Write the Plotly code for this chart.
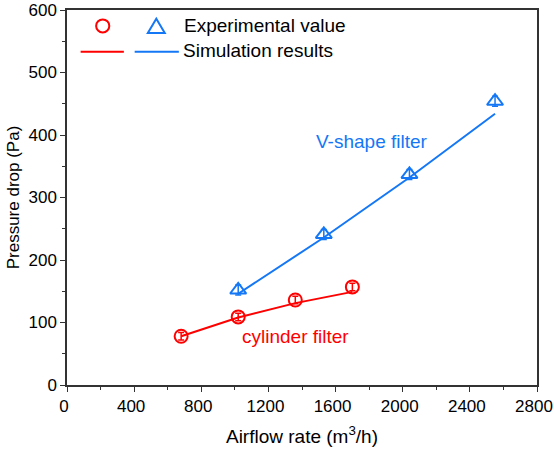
import plotly.graph_objects as go

# Data
cyl_x = [680, 1020, 1360, 1700]
cyl_exp = [78, 109, 136, 157]
cyl_err = [6, 6, 6, 6]
cyl_sim = [78, 108, 131, 149]

v_x = [1020, 1530, 2040, 2550]
v_exp = [152, 241, 337, 454]
v_err = [8, 8, 8, 8]
v_sim = [146, 236, 332, 434]

x_ticks = [0, 400, 800, 1200, 1600, 2000, 2400, 2800]
y_ticks = [0, 100, 200, 300, 400, 500, 600]

RED = "#FF0000"
BLUE = "#1477F5"
FONT = "Liberation Sans, Arial, sans-serif"

fig = go.Figure()

fig.add_trace(go.Scatter(x=cyl_x, y=cyl_sim, mode="lines",
                         line=dict(color=RED, width=2), showlegend=False))
fig.add_trace(go.Scatter(x=v_x, y=v_sim, mode="lines",
                         line=dict(color=BLUE, width=2), showlegend=False))
fig.add_trace(go.Scatter(x=cyl_x, y=cyl_exp, mode="markers",
                         marker=dict(symbol="circle-open", size=13, color=RED, line=dict(width=2)),
                         error_y=dict(type="data", array=cyl_err, color=RED, thickness=1.5, width=3),
                         showlegend=False))
fig.add_trace(go.Scatter(x=v_x, y=v_exp, mode="markers",
                         marker=dict(symbol="triangle-up-open", size=14, color=BLUE, line=dict(width=2)),
                         error_y=dict(type="data", array=v_err, color=BLUE, thickness=1.5, width=3),
                         showlegend=False))

# Manual legend (paper coordinates)
fig.add_shape(type="circle", xref="paper", yref="paper",
              x0=0.062, x1=0.090, y0=0.940, y1=0.975, line=dict(color=RED, width=2))
fig.add_shape(type="path", xref="paper", yref="paper",
              path="M 0.172 0.939 L 0.208 0.939 L 0.190 0.977 Z",
              line=dict(color=BLUE, width=2))
fig.add_shape(type="line", xref="paper", yref="paper",
              x0=0.029, x1=0.121, y0=0.889, y1=0.889, line=dict(color=RED, width=2))
fig.add_shape(type="line", xref="paper", yref="paper",
              x0=0.144, x1=0.238, y0=0.889, y1=0.889, line=dict(color=BLUE, width=2))
fig.add_annotation(xref="paper", yref="paper", x=0.245, y=0.958, xanchor="left", yanchor="middle",
                   text="Experimental value", showarrow=False, font=dict(size=19, color="black", family=FONT))
fig.add_annotation(xref="paper", yref="paper", x=0.243, y=0.893, xanchor="left", yanchor="middle",
                   text="Simulation results", showarrow=False, font=dict(size=19, color="black", family=FONT))

fig.add_annotation(x=1818, y=390, text="V-shape filter", showarrow=False,
                   font=dict(size=19, color=BLUE, family=FONT))
fig.add_annotation(x=1364, y=77, text="cylinder filter", showarrow=False,
                   font=dict(size=19, color=RED, family=FONT))

axis_common = dict(showline=True, linecolor="#333333", linewidth=1.5, mirror=True,
                   ticks="outside", ticklen=5, tickwidth=1.2, tickcolor="#333333",
                   showgrid=False, zeroline=False, automargin=False,
                   tickfont=dict(size=17, color="black", family=FONT))

fig.update_xaxes(range=[0, 2800], tickvals=x_ticks, ticktext=[str(v) for v in x_ticks],
                 ticklabeloverflow="allow", ticklabelshift=-3,
                 minor=dict(dtick=200, ticks="outside", ticklen=3, tickcolor="#333333"),
                 title=dict(text="Airflow rate (m<sup>3</sup>/h)", font=dict(size=19, color="black", family=FONT),
                            standoff=15),
                 **axis_common)
fig.update_yaxes(range=[0, 600], tickvals=y_ticks, ticktext=[str(v) for v in y_ticks],
                 minor=dict(dtick=50, ticks="outside", ticklen=3, tickcolor="#333333"),
                 title=dict(text="Pressure drop (Pa)", font=dict(size=17, color="black", family=FONT),
                            standoff=5),
                 **axis_common)

fig.update_layout(width=554, height=451, margin=dict(l=67, r=17, t=10, b=66),
                  plot_bgcolor="white", paper_bgcolor="white", showlegend=False)

fig.write_html("out.html", config={"displayModeBar": False},
               post_script="document.body.style.margin='0';document.body.style.overflow='hidden';")
